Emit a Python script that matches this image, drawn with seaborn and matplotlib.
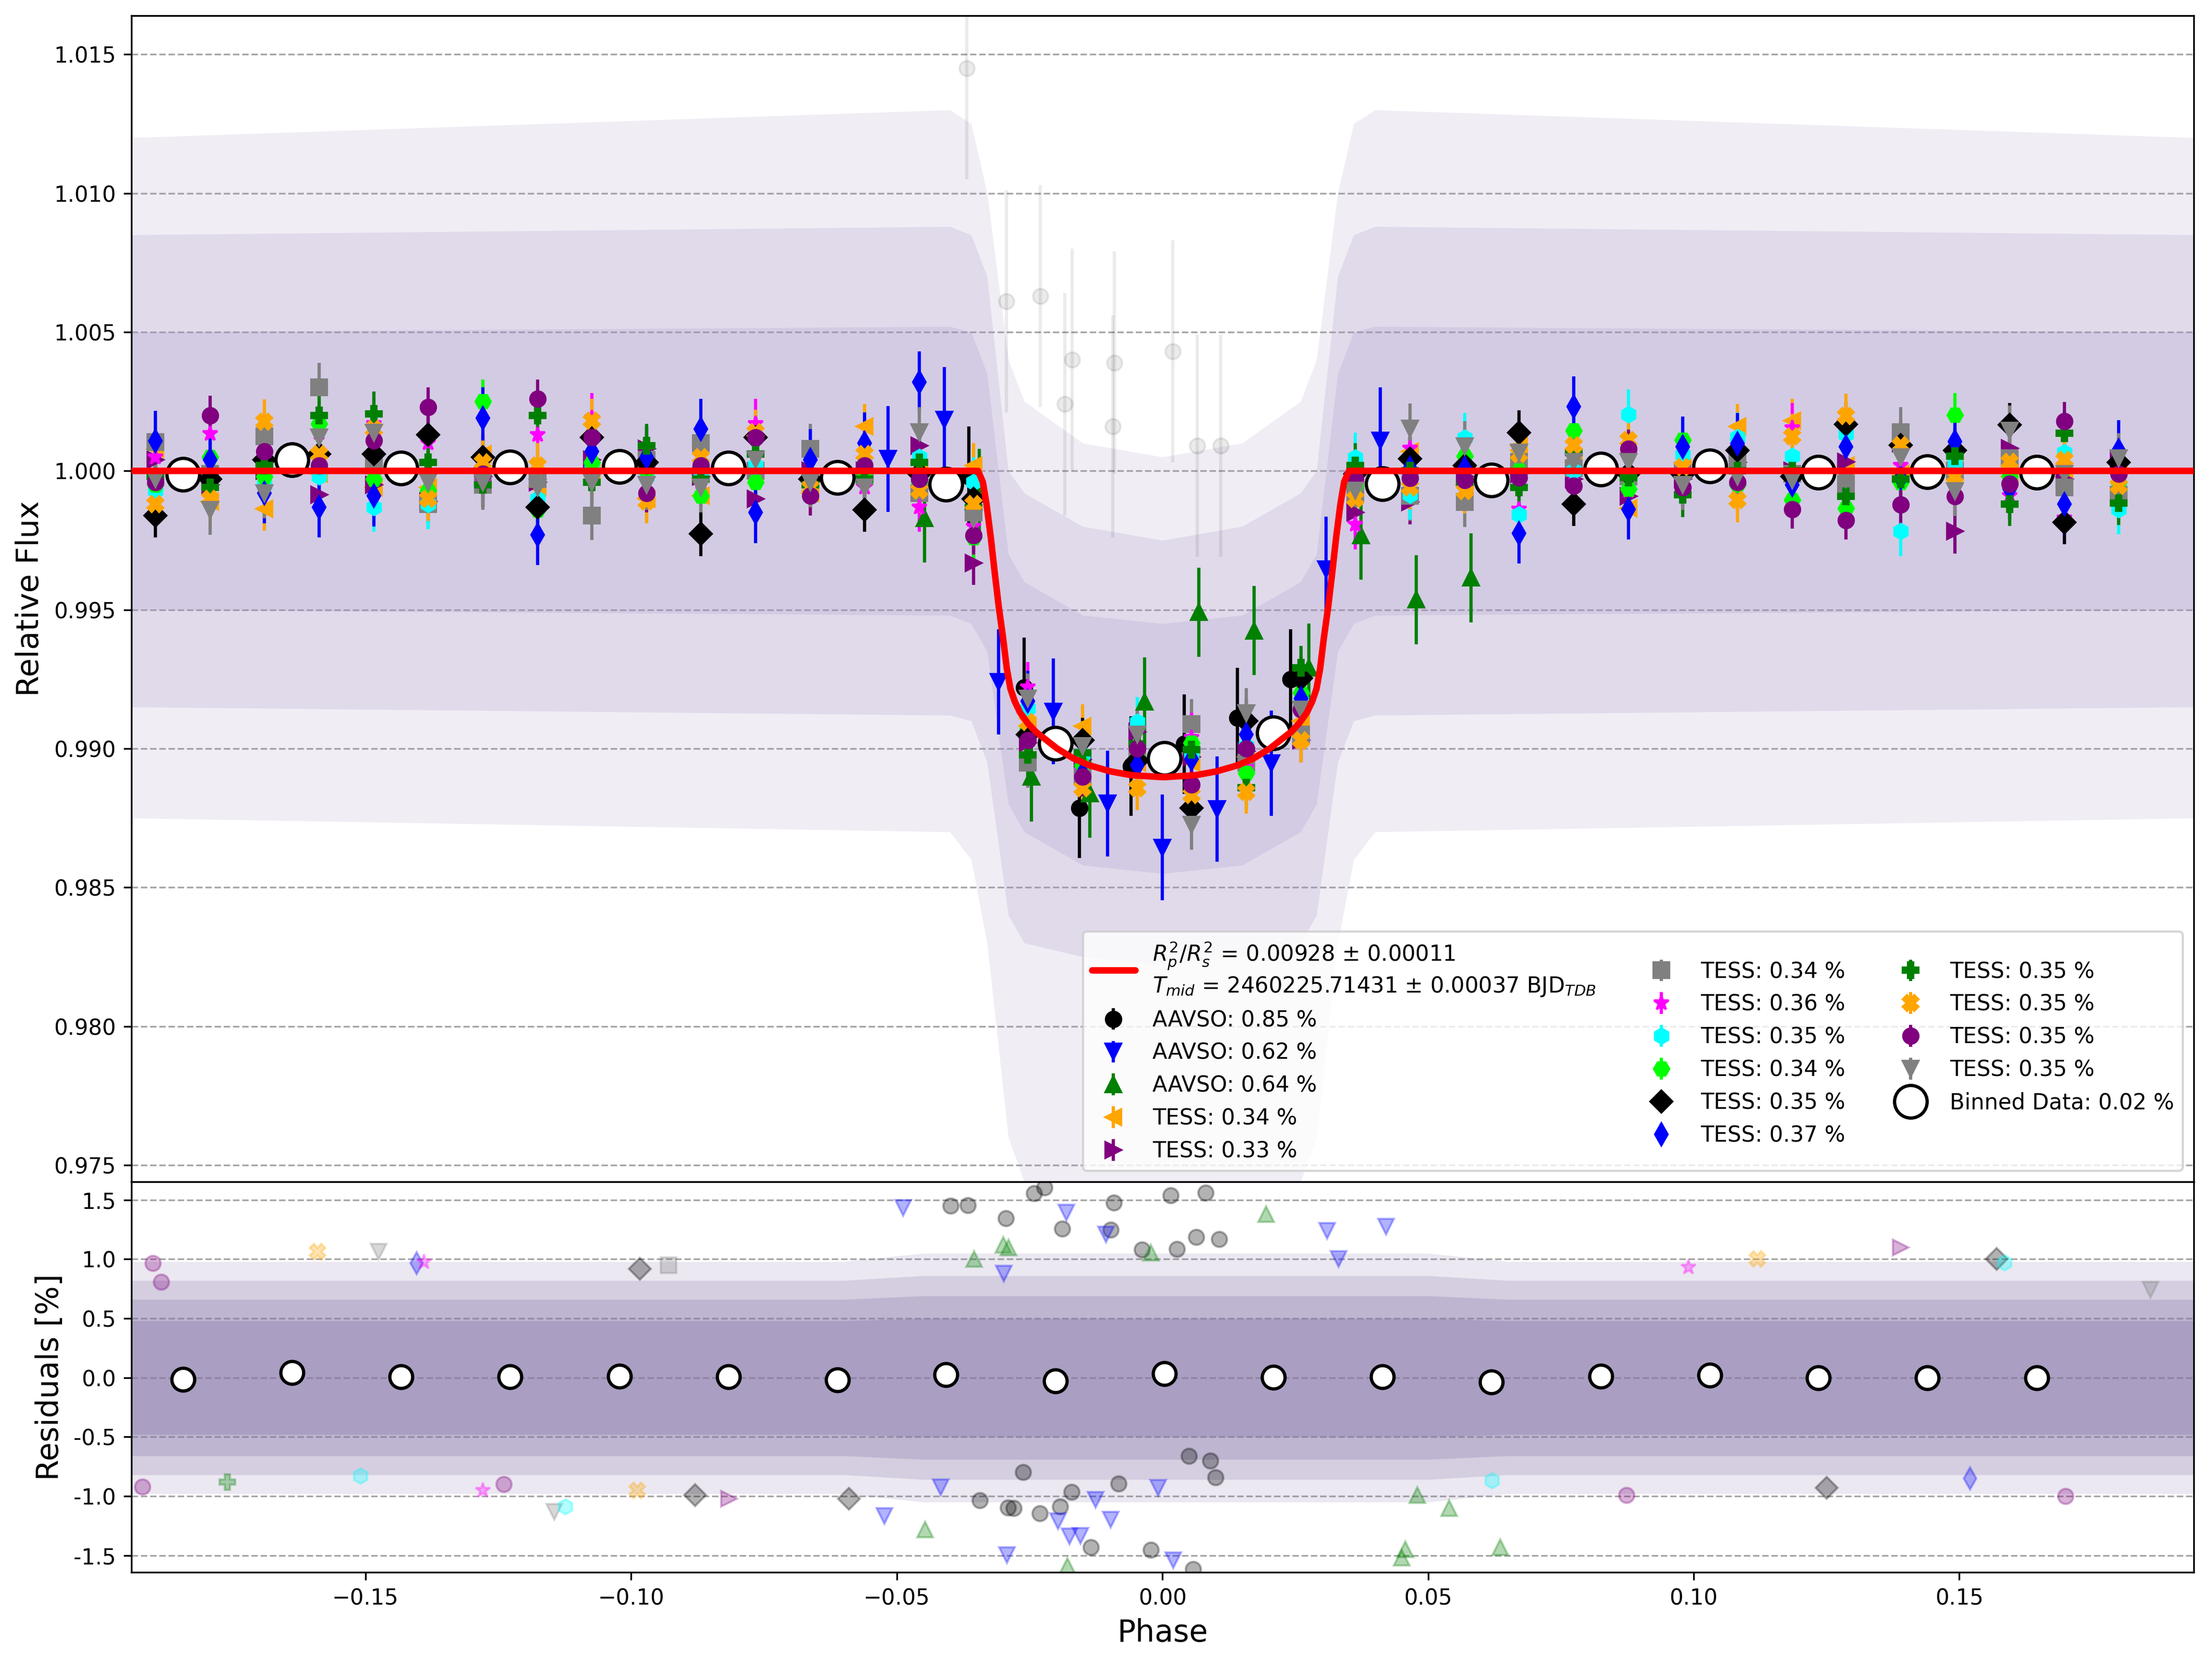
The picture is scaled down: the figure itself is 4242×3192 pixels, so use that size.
import matplotlib
matplotlib.use("Agg")
import matplotlib.pyplot as plt
import seaborn as sns
import pandas as pd
from matplotlib.ticker import FormatStrFormatter, MultipleLocator

sns.set_style("ticks", rc={
    "axes.edgecolor": "black", "xtick.color": "black", "ytick.color": "black",
    "text.color": "black", "axes.labelcolor": "black",
    "xtick.major.size": 3.5, "ytick.major.size": 3.5,
    "xtick.major.width": 0.8, "ytick.major.width": 0.8, "axes.linewidth": 0.8,
})
plt.rcParams["font.family"] = ["DejaVu Sans"]
plt.rcParams["mathtext.fontset"] = "dejavusans"

# ---------------- data ----------------
CLUSTER_PHASE = [-0.1895, -0.1792, -0.1690, -0.1587, -0.1484, -0.1382, -0.1279, -0.1176,
                 -0.1074, -0.0971, -0.0869, -0.0766, -0.0663, -0.0561, -0.0458, -0.0355,
                 -0.0253, -0.0150, -0.0047, 0.0055, 0.0158, 0.0261, 0.0363, 0.0466,
                 0.0569, 0.0671, 0.0774, 0.0877, 0.0979, 0.1082, 0.1185, 0.1287,
                 0.1390, 0.1492, 0.1595, 0.1698, 0.1800]

T1_FLUX = [1.0008, 0.9989, 0.99864, 0.9999, 0.9994, 0.9994, 1.0006, 0.9994, 0.9999, 0.9990,
           0.9991, 1.0000, 0.9992, 1.0016, 1.0000, 1.0002, 0.9908, 0.9908, 0.9895, 0.9895,
           0.9897, 0.9910, 0.9996, 1.0007, 0.9995, 1.0009, 1.0003, 0.99865, 1.0001, 1.0016,
           1.0018, 1.0002, 0.9999, 1.0003, 0.9998, 0.9998, 1.0001]
T2_FLUX = [1.0004, 0.9995, 1.0000, 0.99915, 0.9995, 0.9989, 0.9998, 0.9996, 1.0004, 1.0008,
           0.9998, 0.9990, 1.0000, 1.0000, 1.0009, 0.99669, 0.9902, 0.9896, 0.9906, 0.9897,
           0.9899, 0.9903, 0.9985, 0.99888, 0.9998, 0.9999, 0.9997, 0.99908, 0.9997, 1.0003,
           1.0000, 1.00033, 1.0010, 0.99782, 1.00082, 0.9997, 1.0004]
T3_FLUX = [1.00104, 0.9999, 1.00124, 1.0030, 1.0002, 0.9988, 0.9995, 0.9997, 0.9984, 1.0004,
           1.0010, 1.0000, 1.0008, 0.9998, 0.9992, 0.9985, 0.9895, 0.9890, 0.9899, 0.99089,
           0.9895, 0.9905, 0.9992, 0.9991, 0.99888, 1.00033, 1.0001, 0.9998, 1.0000, 1.00046,
           0.9999, 0.99954, 1.00139, 1.0000, 1.00046, 0.99941, 0.99914]
T4_FLUX = [1.0005, 1.00134, 1.0003, 1.00137, 1.0017, 1.0010, 0.9996, 1.0013, 1.0019, 1.0001,
           0.9996, 1.0017, 0.9998, 0.9994, 0.9987, 0.9980, 0.99221, 0.9892, 0.9898, 0.9904,
           0.9893, 0.9915, 0.99807, 1.00082, 1.0000, 0.99862, 0.9999, 0.9993, 1.0000, 0.9994,
           1.00155, 0.9990, 1.0002, 0.99947, 0.9991, 0.99829, 1.0002]
T5_FLUX = [0.9993, 0.9998, 0.9995, 0.9998, 0.9987, 0.9988, 1.0001, 0.9990, 1.0001, 0.9998,
           1.0000, 1.0002, 0.9996, 1.0003, 1.0005, 0.99959, 0.99145, 0.9898, 0.99095, 0.9898,
           0.9901, 0.9917, 1.00047, 0.99914, 1.00119, 0.99842, 1.0000, 1.00204, 1.00059, 1.0012,
           1.00053, 1.00132, 0.99782, 1.00026, 1.0000, 1.00066, 0.99862]
T6_FLUX = [0.9995, 1.0005, 0.9998, 1.0017, 0.9997, 0.9993, 1.0025, 0.9986, 1.0003, 1.0000,
           0.9991, 0.9996, 0.9997, 0.9998, 0.9996, 0.9976, 0.99072, 0.9894, 0.9897, 0.9902,
           0.98911, 0.9920, 0.9995, 0.9997, 1.00053, 1.0000, 1.00145, 0.99934, 1.00112, 0.9995,
           0.99895, 0.99865, 0.9996, 1.00201, 0.9998, 1.0001, 0.9996]
T7_FLUX = [0.9984, 0.9997, 1.0004, 1.0006, 1.0006, 1.0013, 1.0005, 0.9987, 1.0012, 1.0003,
           0.99773, 1.0012, 0.9997, 0.9986, 0.9999, 0.9990, 0.9905, 0.9903, 0.98957, 0.98786,
           0.9910, 0.99254, 0.9999, 1.00043, 1.0002, 1.00138, 0.99881, 0.9999, 0.99987, 1.00073,
           0.9998, 1.00168, 1.00092, 1.00073, 1.00165, 0.99815, 1.0003]
T8_FLUX = [1.00107, 1.0004, 0.9992, 0.9987, 0.9991, 0.9999, 1.0019, 0.9977, 1.0007, 1.0005,
           1.0015, 0.9985, 1.0004, 1.0010, 1.0032, 0.9986, 0.9917, 0.9891, 0.9894, 0.98963,
           0.9905, 0.9918, 0.9996, 1.0001, 1.0001, 0.99776, 1.00231, 0.99862, 1.00086, 1.00099,
           0.9995, 1.00086, 0.99974, 1.00105, 0.99934, 0.99881, 1.00073]
T9_FLUX = [0.9998, 0.9994, 1.0002, 1.0020, 1.00206, 1.0003, 0.9995, 1.0020, 0.9996, 1.0009,
           0.9997, 1.0006, 0.9995, 0.9997, 1.0003, 0.99867, 0.98977, 0.98984, 0.99016, 0.98996,
           0.9886, 0.9929, 1.0002, 1.0000, 0.9996, 0.99941, 1.00066, 0.99977, 0.99914, 1.0000,
           1.0000, 0.99908, 0.9997, 1.00053, 0.99881, 1.00135, 0.99885]
T10_FLUX = [0.9988, 0.9990, 1.00177, 1.0006, 1.0015, 0.9990, 1.0003, 1.0002, 1.0018, 0.9989,
            1.0005, 1.0014, 0.9994, 1.0006, 0.9993, 0.9988, 0.99095, 0.98858, 0.98858, 0.98832,
            0.98845, 0.9903, 0.9990, 0.99941, 0.99927, 1.0006, 1.00092, 1.00112, 1.00013, 0.99895,
            1.00125, 1.00198, 1.00092, 0.9998, 1.00033, 1.0004, 0.99947]
T11_FLUX = [0.9996, 1.0020, 1.0007, 1.0002, 1.0011, 1.0023, 0.9999, 1.0026, 1.0012, 0.9992,
            1.0002, 1.0012, 0.9991, 1.0002, 0.9997, 0.99768, 0.9903, 0.98898, 0.9900, 0.98871,
            0.9900, 0.9914, 0.9997, 0.99974, 0.99967, 0.99977, 0.99947, 1.00079, 0.99941, 0.9996,
            0.99862, 0.99822, 0.99878, 0.99908, 0.99954, 1.00178, 0.9999]
T12_FLUX = [0.9997, 0.9986, 0.9992, 1.0012, 1.00137, 0.9996, 0.9996, 0.9994, 0.9996, 0.9995,
            0.9994, 1.0004, 0.9996, 0.9994, 1.0014, 0.99827, 0.99181, 0.9901, 0.9905, 0.98726,
            0.99127, 0.9914, 0.9993, 1.00152, 1.00089, 1.00066, 1.00033, 1.00033, 0.9995, 0.9998,
            0.99967, 0.9997, 1.0005, 0.99927, 1.00145, 0.9999, 1.00046]
TESS_ERR = [0.0008, 0.0008, 0.0009, 0.0009, 0.0009, 0.0008, 0.0008, 0.0011, 0.0008, 0.0008, 0.0007, 0.0009]

A1_PHASE = [-0.0364, -0.0260, -0.0156, -0.0059, 0.0041, 0.0141, 0.0241]
A1_FLUX = [0.9998, 0.9922, 0.98786, 0.98937, 0.99016, 0.9911, 0.9925]
A2_PHASE = [-0.0516, -0.0410, -0.0308, -0.0205, -0.0103, 0.0000, 0.0103, 0.0205, 0.0308, 0.0410]
A2_FLUX = [1.00043, 1.00185, 0.99240, 0.99134, 0.98802, 0.98644, 0.98782, 0.98947, 0.99646, 1.00110]
A3_PHASE = [-0.0448, -0.0345, -0.0247, -0.0137, -0.0034, 0.0069, 0.0173, 0.0276, 0.0374, 0.0478, 0.0581]
A3_FLUX = [0.99830, 0.99920, 0.98898, 0.98838, 0.99168, 0.99491, 0.99425, 0.99290, 0.99768, 0.99536, 0.99615]
AAVSO_ERR = [0.0018, 0.0019, 0.0016]

LABELS = ["AAVSO: 0.85 %", "AAVSO: 0.62 %", "AAVSO: 0.64 %",
          "TESS: 0.34 %", "TESS: 0.33 %", "TESS: 0.34 %", "TESS: 0.36 %", "TESS: 0.35 %",
          "TESS: 0.34 %", "TESS: 0.35 %", "TESS: 0.37 %", "TESS: 0.35 %", "TESS: 0.35 %",
          "TESS: 0.35 %", "TESS: 0.35 %"]
BIN_LABEL = "Binned Data: 0.02 %"
MODEL_LABEL = ("$R^2_p/R^2_s$ = 0.00928 ± 0.00011\n"
               "$T_{mid}$ = 2460225.71431 ± 0.00037 BJD$_{TDB}$")

MODEL_PHASE = [-0.1941, -0.0347, -0.0338, -0.0331, -0.0323, -0.0316, -0.0308, -0.0300,
               -0.0293, -0.0286, -0.0278, -0.0268, -0.0253, -0.0238, -0.0218, -0.0198,
               -0.0168, -0.0138, -0.0098, -0.0058, 0.0002, 0.0062, 0.0102, 0.0142,
               0.0172, 0.0202, 0.0222, 0.0242, 0.0257, 0.0272, 0.0282, 0.0290, 0.0297,
               0.0304, 0.0312, 0.0320, 0.0327, 0.0335, 0.0342, 0.0351, 0.1941]
MODEL_FLUX = [1.0, 1.0, 0.9996, 0.9988, 0.9976, 0.9964, 0.9951, 0.9940, 0.9929, 0.99215,
              0.9917, 0.9913, 0.9909, 0.9906, 0.9903, 0.9900, 0.98965, 0.9894, 0.98918,
              0.98904, 0.98897, 0.98904, 0.98918, 0.9894, 0.98965, 0.9900, 0.9903, 0.9906,
              0.9909, 0.9913, 0.9917, 0.99215, 0.9929, 0.9940, 0.9951, 0.9964, 0.9976,
              0.9988, 0.9996, 1.0, 1.0]

BIN_PHASE = [-0.1843, -0.1638, -0.1433, -0.1228, -0.1022, -0.0817, -0.0612, -0.0407, -0.0201,
             0.0004, 0.0209, 0.0414, 0.0619, 0.0825, 0.1030, 0.1235, 0.1440, 0.1646]
BIN_FLUX = [0.99987, 1.00040, 1.00010, 1.00013, 1.00016, 1.00010, 0.99977, 0.99951, 0.99019,
            0.98964, 0.99056, 0.99954, 0.99967, 1.00007, 1.00017, 0.99994, 0.99997, 0.99994]
BIN_RESID = [-0.014, 0.043, 0.008, 0.008, 0.012, 0.008, -0.018, 0.026, -0.030,
             0.032, 0.004, 0.008, -0.036, 0.010, 0.020, 0.000, 0.000, 0.000]

# envelope of the faint unbinned cloud (top panel), read at density levels
CLOUD_PHASE = [-0.1941, -0.0400, -0.0360, -0.0330, -0.0290, -0.0260, -0.0150, 0.0000,
               0.0150, 0.0260, 0.0290, 0.0330, 0.0360, 0.0400, 0.1941]
CLOUD_A_HI = [1.0120, 1.0130, 1.0125, 1.0100, 1.0040, 1.0025, 1.0010, 1.0005, 1.0010, 1.0025, 1.0040, 1.0100, 1.0125, 1.0130, 1.0120]
CLOUD_A_LO = [0.9875, 0.9870, 0.9860, 0.9830, 0.9760, 0.9744, 0.9744, 0.9744, 0.9744, 0.9744, 0.9760, 0.9830, 0.9860, 0.9870, 0.9875]
CLOUD_B_HI = [1.0085, 1.0088, 1.0085, 1.0070, 1.0000, 0.9992, 0.9980, 0.9975, 0.9980, 0.9992, 1.0000, 1.0070, 1.0085, 1.0088, 1.0085]
CLOUD_B_LO = [0.9915, 0.9912, 0.9910, 0.9895, 0.9840, 0.9830, 0.9825, 0.9822, 0.9825, 0.9830, 0.9840, 0.9895, 0.9910, 0.9912, 0.9915]
CLOUD_C_HI = [1.0050, 1.0052, 1.0050, 1.0035, 0.9970, 0.9960, 0.9948, 0.9945, 0.9948, 0.9960, 0.9970, 1.0035, 1.0050, 1.0052, 1.0050]
CLOUD_C_LO = [0.9950, 0.9948, 0.9945, 0.9935, 0.9880, 0.9870, 0.9858, 0.9855, 0.9858, 0.9870, 0.9880, 0.9935, 0.9945, 0.9948, 0.9950]

# envelope of the residual cloud (bottom panel, %), read at density levels
RCLOUD_PHASE = [-0.1941, -0.0600, -0.0450, 0.0500, 0.0650, 0.1941]
RCLOUD_1 = [0.98, 0.98, 1.05, 1.05, 0.98, 0.98]
RCLOUD_2 = [0.82, 0.82, 0.86, 0.86, 0.82, 0.82]
RCLOUD_3 = [0.66, 0.66, 0.69, 0.69, 0.66, 0.66]
RCLOUD_4 = [0.48, 0.48, 0.50, 0.50, 0.48, 0.48]

# individual faint points visible outside the clouds
FAINT_A1_PHASE = [-0.0368, -0.0294, -0.0230, -0.0170, -0.0090, 0.0019, -0.0184, -0.0093, 0.0066, 0.0110]
FAINT_A1_FLUX = [1.0145, 1.0061, 1.0063, 1.0040, 1.0039, 1.0043, 1.0024, 1.0016, 1.0009, 1.0009]

RES_A1_PHASE = [-0.0242, -0.0222, -0.0366, -0.0295, -0.0091, -0.0189, -0.0097, 0.0016, 0.0081,
                0.0064, 0.0107, -0.0038, 0.0027, -0.0344, -0.0291, -0.0280, -0.0231, -0.0193,
                -0.0171, -0.0135, -0.0022, 0.0058, -0.0262, 0.0050, 0.0090, 0.0100, -0.0083, -0.0399]
RES_A1 = [1.557, 1.606, 1.453, 1.343, 1.477, 1.256, 1.25, 1.54, 1.562, 1.186, 1.17, 1.08, 1.087,
          -1.037, -1.096, -1.10, -1.145, -1.087, -0.967, -1.431, -1.453, -1.616, -0.796, -0.66,
          -0.70, -0.84, -0.894, 1.449]
RES_A2_PHASE = [-0.0488, -0.0181, -0.0106, 0.0310, 0.0421, 0.0332, -0.0299, -0.0523, -0.0417,
                -0.0196, -0.0154, -0.0097, -0.0293, 0.0020, -0.0126, -0.0008, -0.0175]
RES_A2 = [1.431, 1.394, 1.207, 1.24, 1.273, 1.0, 0.88, -1.167, -0.927, -1.21, -1.333, -1.2,
          -1.497, -1.54, -1.03, -0.93, -1.34]
RES_A3_PHASE = [-0.0300, -0.0290, -0.0022, 0.0195, -0.0354, -0.0447, 0.0457, 0.0450, 0.0636,
                0.0540, 0.0480, -0.0179]
RES_A3 = [1.12, 1.10, 1.054, 1.382, 1.0, -1.28, -1.45, -1.52, -1.43, -1.10, -0.99, -1.59]

# fringe TESS residual points: (dataset index 3..14, phase, residual)
RES_T_IDX = [13, 13, 13, 13, 12, 12, 14, 14, 10, 6, 6, 9, 9, 9, 5, 7, 7, 4, 11, 4, 9, 14, 10, 13, 13, 7, 12, 6, 7, 9]
RES_T_PHASE = [-0.1900, -0.1885, -0.1920, -0.1240, -0.1590, -0.0989, -0.1475, -0.1145, -0.1404,
               -0.1390, -0.1279, -0.0984, -0.0880, -0.0590, -0.0930, -0.1124, -0.1510, -0.0816,
               -0.1760, 0.1390, 0.1570, 0.1860, 0.1520, 0.0873, 0.1700, 0.1585, 0.1120, 0.0990,
               0.0620, 0.1250]
RES_T = [0.965, 0.81, -0.92, -0.90, 1.065, -0.95, 1.065, -1.13, 0.965, 0.975, -0.95, 0.92, -0.99,
         -1.02, 0.95, -1.09, -0.83, -1.02, -0.88, 1.10, 1.00, 0.74, -0.85, -0.99, -1.00, 0.97,
         1.00, 0.93, -0.87, -0.93]

# ---------------- styles ----------------
MARKERS = ["o", "v", "^", "<", ">", "s", "*", "h", "H", "D", "d", "P", "X", "o", "v"]
COLORS = ["black", "blue", "green", "orange", "purple", "gray", "magenta", "cyan", "lime",
          "black", "blue", "green", "orange", "purple", "gray"]

series = [(A1_PHASE, A1_FLUX, AAVSO_ERR[0]), (A2_PHASE, A2_FLUX, AAVSO_ERR[1]),
          (A3_PHASE, A3_FLUX, AAVSO_ERR[2])]
for flux, err in zip([T1_FLUX, T2_FLUX, T3_FLUX, T4_FLUX, T5_FLUX, T6_FLUX, T7_FLUX, T8_FLUX,
                      T9_FLUX, T10_FLUX, T11_FLUX, T12_FLUX], TESS_ERR):
    series.append((CLUSTER_PHASE, flux, err))

# ---------------- figure ----------------
fig = plt.figure(figsize=(14.14, 10.64), dpi=300)
ax = fig.add_axes([0.0593, 0.2898, 0.9324, 0.7009])
axr = fig.add_axes([0.0593, 0.0551, 0.9324, 0.2347], sharex=ax)

CLOUD_COL = "#a291c4"
for lo, hi, a in [(CLOUD_A_LO, CLOUD_A_HI, 0.16), (CLOUD_B_LO, CLOUD_B_HI, 0.2),
                  (CLOUD_C_LO, CLOUD_C_HI, 0.2)]:
    ax.fill_between(CLOUD_PHASE, lo, hi, color=CLOUD_COL, alpha=a, lw=0, zorder=1)

ax.errorbar(FAINT_A1_PHASE, FAINT_A1_FLUX, yerr=0.004, fmt="o", ms=7, color="black",
            alpha=0.08, zorder=1.2)

handles = []
for i, (ph, fl, er) in enumerate(series):
    h = ax.errorbar(ph, fl, yerr=er, fmt=MARKERS[i], ms=7, color=COLORS[i], ecolor=COLORS[i],
                    elinewidth=1.5, capsize=0, label=LABELS[i], zorder=3)
    handles.append(h)

hb, = ax.plot(BIN_PHASE, BIN_FLUX, "o", ms=15, mfc="white", mec="black", mew=1.5,
              label=BIN_LABEL, zorder=4)

model_df = pd.DataFrame({"phase": MODEL_PHASE, "flux": MODEL_FLUX})
sns.lineplot(data=model_df, x="phase", y="flux", color="red", lw=3, sort=False,
             estimator=None, ax=ax, zorder=5)
hm = ax.lines[-1]
hm.set_label(MODEL_LABEL)

ax.set_xlim(-0.1941, 0.1941)
ax.set_ylim(0.9744, 1.0164)
ax.yaxis.set_major_locator(MultipleLocator(0.005))
ax.yaxis.set_major_formatter(FormatStrFormatter("%.3f"))
ax.grid(axis="y", ls="--", color="#a6a6a6", lw=0.8)
ax.set_axisbelow(True)
ax.tick_params(axis="x", which="both", bottom=False, labelbottom=False)
ax.tick_params(axis="y", labelsize=10)
ax.set_ylabel("Relative Flux", fontsize=14)
ax.set_xlabel("")

leg = ax.legend(handles=[hm] + handles + [hb], loc="lower right", ncol=3, fontsize=10)

# residuals
RCOL = "#8675a8"
for w, a in [(RCLOUD_1, 0.16), (RCLOUD_2, 0.22), (RCLOUD_3, 0.28), (RCLOUD_4, 0.34)]:
    axr.fill_between(RCLOUD_PHASE, [-v for v in w], w, color=RCOL, alpha=a, lw=0, zorder=1)

axr.plot(RES_A1_PHASE, RES_A1, "o", ms=7, color="black", alpha=0.3, ls="none", zorder=2)
axr.plot(RES_A2_PHASE, RES_A2, "v", ms=7, color="blue", alpha=0.3, ls="none", zorder=2)
axr.plot(RES_A3_PHASE, RES_A3, "^", ms=7, color="green", alpha=0.3, ls="none", zorder=2)
for idx, ph, r in zip(RES_T_IDX, RES_T_PHASE, RES_T):
    axr.plot([ph], [r], MARKERS[idx], ms=7, color=COLORS[idx], alpha=0.3, ls="none", zorder=2)

axr.plot(BIN_PHASE, BIN_RESID, "o", ms=10.5, mfc="white", mec="black", mew=1.5, zorder=4)

axr.set_ylim(-1.643, 1.653)
axr.yaxis.set_major_locator(MultipleLocator(0.5))
axr.yaxis.set_major_formatter(FormatStrFormatter("%.1f"))
axr.grid(axis="y", ls="--", color="#a6a6a6", lw=0.8)
axr.set_axisbelow(True)
axr.tick_params(labelsize=10)
axr.set_xlabel("Phase", fontsize=14)
axr.set_ylabel("Residuals [%]", fontsize=14)

fig.savefig("out.png", dpi=300)
